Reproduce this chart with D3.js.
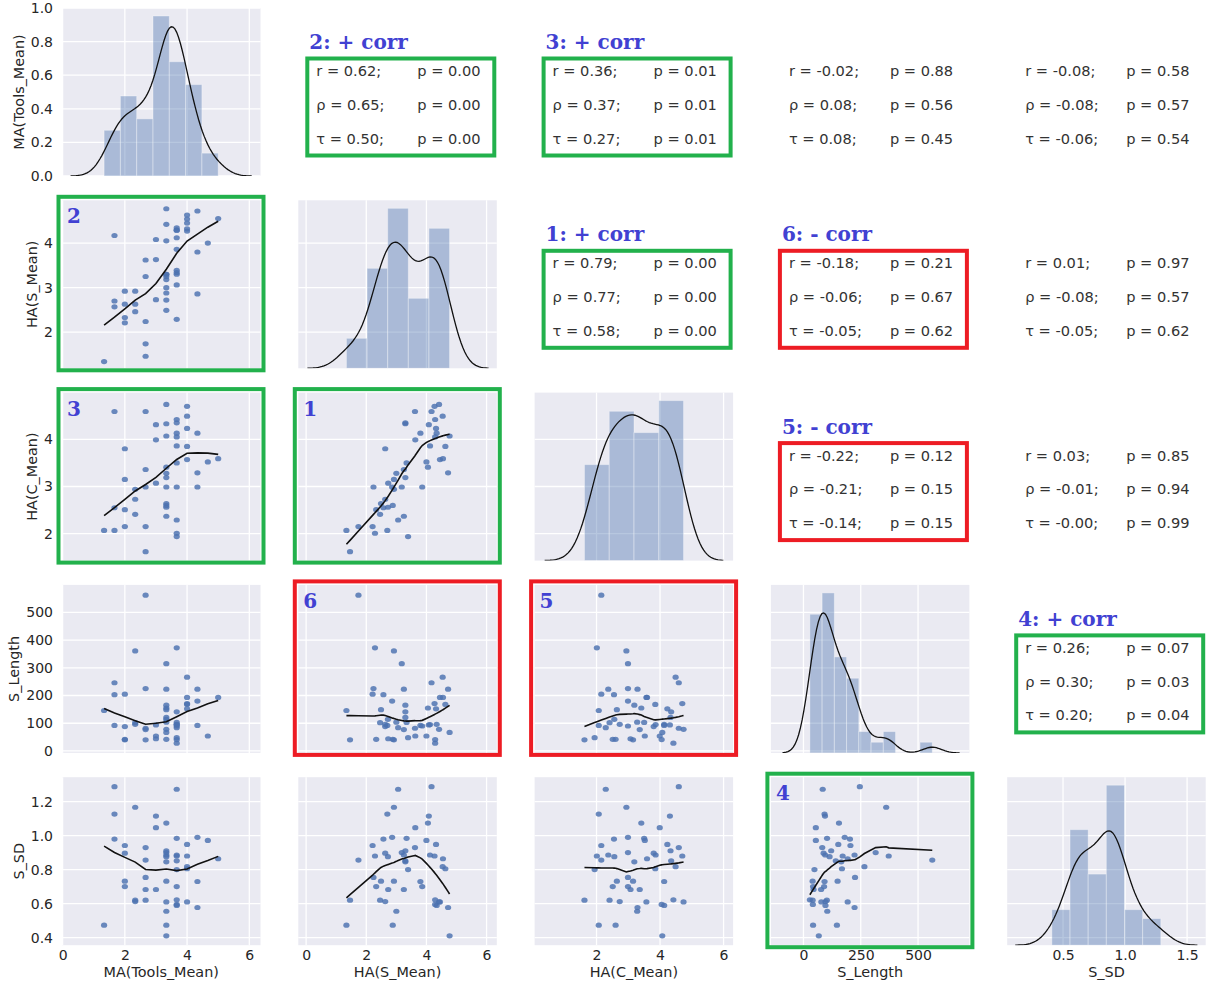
<!DOCTYPE html>
<html>
<head>
<meta charset="utf-8">
<script src="https://cdn.jsdelivr.net/npm/d3@7"></script>
<style>
  body { margin: 0; background: #fff; }
  svg text { font-family: "DejaVu Sans", sans-serif; }
</style>
</head>
<body>
<svg id="chart" width="1207" height="982"></svg>
<script>
// ---- data: one entry per respondent, five measures ----
const varNames = ["MA(Tools_Mean)", "HA(S_Mean)", "HA(C_Mean)", "S_Length", "S_SD"];

const toolsMean = [1.333, 1.667, 1.667, 1.667, 2, 2, 2, 2, 2.333, 2.333, 2.333,
  2.667, 2.667, 2.667, 2.667, 2.667, 3, 3, 3,
  3.333, 3.333, 3.333, 3.333, 3.333, 3.333, 3.333, 3.333, 3.333, 3.333, 3.333,
  3.667, 3.667, 3.667, 3.667, 3.667, 3.667, 3.667, 3.667, 3.667, 3.667,
  4, 4, 4, 4, 4, 4.333, 4.333, 4.333, 4.667, 5];
const sMean = [1.34, 4.17, 2.70, 2.57, 2.21, 2.63, 2.33, 2.92, 2.92, 2.46, 2.63,
  1.74, 1.46, 2.24, 3.62, 3.25, 4.08, 3.63, 2.73,
  4.77, 4.42, 3.30, 4.05, 3.00, 3.30, 3.18, 2.88, 2.49, 2.72, 3.25,
  2.29, 3.06, 3.30, 3.34, 3.39, 3.86, 4.12, 4.29, 4.34, 4.29,
  4.27, 4.54, 4.32, 4.63, 4.45, 4.72, 3.80, 2.86, 4.00, 4.55];
const cMean = [2.07, 4.59, 2.07, 2.55, 2.15, 3.80, 2.51, 3.15, 2.94, 2.41, 2.73,
  2.15, 1.62, 2.99, 4.59, 3.36, 4.31, 3.99, 3.07,
  4.07, 4.74, 4.33, 3.41, 3.28, 3.19, 2.99, 2.60, 2.64, 2.56, 2.37,
  2.01, 2.29, 4.35, 3.50, 1.94, 2.99, 3.86, 4.42, 4.13, 4.05,
  4.70, 4.49, 4.23, 3.85, 3.57, 3.29, 4.13, 2.99, 3.52, 3.59];
const sLength = [146, 246, 92, 203, 205, 88, 42, 40, 361, 102, 96,
  562, 40, 225, 82, 77, 94, 54, 44,
  67, 78, 121, 155, 104, 165, 315, 42, 149, 114, 223,
  372, 84, 141, 103, 48, 90, 95, 28, 96, 41,
  171, 266, 152, 168, 193, 223, 92, 180, 54, 193];
const sSD = [0.473, 1.288, 1.127, 0.98, 0.942, 0.897, 0.70, 0.732, 1.167, 0.62, 0.612,
  0.856, 0.62, 0.754, 0.93, 0.683, 1.115, 1.047, 0.683,
  0.41, 0.61, 0.911, 1.074, 0.555, 0.846, 0.90, 0.473, 0.732, 0.876, 0.886,
  0.88, 1.273, 0.852, 0.984, 0.80, 0.70, 0.886, 0.622, 0.589, 0.595,
  0.88, 0.817, 0.948, 0.805, 0.61, 0.577, 0.73, 0.99, 0.972, 0.864];
const columns = [toolsMean, sMean, cMean, sLength, sSD];

// histogram bin counts on the diagonal
const histBinCounts = [7, 5, 4, 10, 6];

// axis settings per variable
const xDomains = [[-0.02, 6.36], [-0.26, 6.34], [0.05, 6.3], [-142, 724], [0.05, 1.65]];
const yDomains = [[0, 1], [1.19, 4.96], [1.43, 4.99], [-7, 599], [0.355, 1.344]];
const xTickValues = [[0, 2, 4, 6], [0, 2, 4, 6], [2, 4, 6], [0, 250, 500], [0.5, 1.0, 1.5]];
const yTickValues = [[0, 0.2, 0.4, 0.6, 0.8, 1.0], [2, 3, 4], [2, 3, 4], [0, 100, 200, 300, 400, 500], [0.4, 0.6, 0.8, 1.0, 1.2]];
const xTickFormats = ["d", "d", "d", "d", ".1f"];
const yTickFormats = [".1f", "d", "d", "d", ".1f"];

// correlation statistics for each variable pair (upper triangle)
const corrPairs = [[0, 1], [0, 2], [0, 3], [0, 4], [1, 2], [1, 3], [1, 4], [2, 3], [2, 4], [3, 4]];
const pearsonR    = ["0.62", "0.36", "-0.02", "-0.08", "0.79", "-0.18", "0.01", "-0.22", "0.03", "0.26"];
const pearsonP    = ["0.00", "0.01", "0.88", "0.58", "0.00", "0.21", "0.97", "0.12", "0.85", "0.07"];
const spearmanRho = ["0.65", "0.37", "0.08", "-0.08", "0.77", "-0.06", "-0.08", "-0.21", "-0.01", "0.30"];
const spearmanP   = ["0.00", "0.01", "0.56", "0.57", "0.00", "0.67", "0.57", "0.15", "0.94", "0.03"];
const kendallTau  = ["0.50", "0.27", "0.08", "-0.06", "0.58", "-0.05", "-0.05", "-0.14", "-0.00", "0.20"];
const kendallP    = ["0.00", "0.01", "0.45", "0.54", "0.00", "0.62", "0.62", "0.15", "0.99", "0.04"];

// highlighted pairs: scatter cell (row, col), its tag and direction
const highlightCells = [[1, 0], [2, 0], [2, 1], [3, 1], [3, 2], [4, 3]];
const highlightTags  = ["2", "3", "1", "6", "5", "4"];
const highlightSigns = ["+", "+", "+", "-", "-", "+"];

// ---- layout ----
const svg = d3.select("#chart");
const PW = 198.5, PH = 168;
const colLeft = j => 62 + j * 236.3;
const rowTop = i => 8 + i * 192.3;
const GREEN = "#22b14c", RED = "#ed1c24", TAGBLUE = "#4141d2";
const DOT = "#4c72b0", TEXT = "#262626";

const xScales = xDomains.map((d, j) => d3.scaleLinear().domain(d).range([colLeft(j), colLeft(j) + PW]));
const yScales = yDomains.map((d, i) => d3.scaleLinear().domain(d).range([rowTop(i) + PH, rowTop(i)]));

// ---- helpers ----
function lowess(xv, yv, frac = 2 / 3, iters = 3) {
  const order = d3.range(xv.length).sort((a, b) => xv[a] - xv[b]);
  const x = order.map(i => xv[i]), y = order.map(i => yv[i]);
  const n = x.length, k = Math.floor(frac * n + 1e-10);
  let robust = new Array(n).fill(1);
  const fitted = new Array(n).fill(0);
  for (let it = 0; it <= iters; it++) {
    let left = 0, right = k - 1;
    for (let i = 0; i < n; i++) {
      while (right < n - 1 && x[i] - x[left] > x[right + 1] - x[i]) { left++; right++; }
      const h = Math.max(x[i] - x[left], x[right] - x[i]);
      const w = new Array(n).fill(0);
      let sw = 0, sx = 0, sy = 0;
      for (let j = 0; j < n; j++) {
        const d = Math.abs(x[j] - x[i]);
        let wt;
        if (h <= 0) wt = d === 0 ? 1 : 0;
        else {
          const u = d / h;
          wt = u <= 0.001 ? 1 : (u >= 0.999 ? 0 : Math.pow(1 - u * u * u, 3));
        }
        wt *= robust[j];
        w[j] = wt; sw += wt; sx += wt * x[j]; sy += wt * y[j];
      }
      if (sw <= 0) { fitted[i] = y[i]; continue; }
      const mx = sx / sw, my = sy / sw;
      let sxx = 0, sxy = 0;
      for (let j = 0; j < n; j++) {
        if (!w[j]) continue;
        sxx += w[j] * (x[j] - mx) ** 2;
        sxy += w[j] * (x[j] - mx) * (y[j] - my);
      }
      const b = sxx > 1e-12 ? sxy / sxx : 0;
      fitted[i] = my + b * (x[i] - mx);
    }
    if (it === iters) break;
    const res = y.map((v, i) => v - fitted[i]);
    const s = d3.median(res.map(Math.abs));
    if (!(s > 0)) break;
    robust = res.map(r => { const u = r / (6 * s); return Math.abs(u) < 1 ? (1 - u * u) ** 2 : 0; });
  }
  const pts = [];
  for (let i = 0; i < n; i++) {
    if (i > 0 && x[i] === x[i - 1]) continue;
    pts.push([x[i], fitted[i]]);
  }
  return pts;
}

function histogram(values, nb) {
  const [lo, hi] = d3.extent(values);
  const width = (hi - lo) / nb;
  const counts = new Array(nb).fill(0);
  values.forEach(v => {
    let b = Math.floor((v - lo) / width);
    if (b >= nb) b = nb - 1;
    if (b < 0) b = 0;
    counts[b]++;
  });
  return counts.map((c, b) => ({ x0: lo + b * width, x1: lo + (b + 1) * width, density: c / (values.length * width) }));
}

// Gaussian KDE with Scott's rule (robust spread estimate), cut at 3 bandwidths
function kde(values) {
  const n = values.length;
  const s = values.slice().sort(d3.ascending);
  const iqr = (d3.quantileSorted(s, 0.75) - d3.quantileSorted(s, 0.25)) / 1.349;
  const sd = d3.deviation(values);
  const spread = iqr > 0 ? Math.min(sd, iqr) : sd;
  const bw = 1.059 * spread * Math.pow(n, -0.2);
  const [lo, hi] = d3.extent(values);
  const grid = d3.range(100).map(g => (lo - 3 * bw) + g * ((hi - lo + 6 * bw) / 99));
  const norm = 1 / (n * bw * Math.sqrt(2 * Math.PI));
  return grid.map(g => [g, norm * d3.sum(values, v => Math.exp(-0.5 * ((g - v) / bw) ** 2))]);
}

const defs = svg.append("defs");
function clipFor(i, j) {
  const id = `clip-${i}-${j}`;
  defs.append("clipPath").attr("id", id)
    .append("rect").attr("x", colLeft(j)).attr("y", rowTop(i)).attr("width", PW).attr("height", PH);
  return `url(#${id})`;
}

function drawPanelFrame(i, j) {
  const g = svg.append("g");
  g.append("rect").attr("x", colLeft(j)).attr("y", rowTop(i))
    .attr("width", PW).attr("height", PH).attr("fill", "#eaeaf2");
  const xs = xScales[j], ys = yScales[i];
  g.selectAll(".vg").data(xTickValues[j].filter(t => t >= xs.domain()[0] && t <= xs.domain()[1]))
    .join("line").attr("x1", d => xs(d)).attr("x2", d => xs(d))
    .attr("y1", rowTop(i)).attr("y2", rowTop(i) + PH)
    .attr("stroke", "#fff").attr("stroke-width", 1.3);
  g.selectAll(".hg").data(yTickValues[i].filter(t => t >= ys.domain()[0] && t <= ys.domain()[1]))
    .join("line").attr("y1", d => ys(d)).attr("y2", d => ys(d))
    .attr("x1", colLeft(j)).attr("x2", colLeft(j) + PW)
    .attr("stroke", "#fff").attr("stroke-width", 1.3);
  return g;
}

// ---- lower triangle and diagonal ----
for (let i = 0; i < 5; i++) {
  for (let j = 0; j <= i; j++) {
    const g = drawPanelFrame(i, j);
    const clip = clipFor(i, j);
    const xs = xScales[j];
    if (i === j) {
      const vals = columns[i];
      const bins = histogram(vals, histBinCounts[i]);
      const curve = kde(vals);
      const top = 1.05 * Math.max(d3.max(bins, b => b.density), d3.max(curve, c => c[1]));
      const dens = d3.scaleLinear().domain([0, top]).range([rowTop(i) + PH, rowTop(i)]);
      const mg = g.append("g").attr("clip-path", clip);
      mg.selectAll("rect.bar").data(bins).join("rect")
        .attr("x", b => xs(b.x0)).attr("width", b => xs(b.x1) - xs(b.x0))
        .attr("y", b => dens(b.density)).attr("height", b => dens(0) - dens(b.density))
        .attr("fill", DOT).attr("fill-opacity", 0.4)
        .attr("stroke", "#fff").attr("stroke-opacity", 0.35).attr("stroke-width", 1);
      mg.append("path").datum(curve)
        .attr("d", d3.line().x(c => xs(c[0])).y(c => dens(c[1])))
        .attr("fill", "none").attr("stroke", "#111").attr("stroke-width", 1.3);
    } else {
      const ys = yScales[i];
      const xv = columns[j], yv = columns[i];
      const mg = g.append("g").attr("clip-path", clip);
      mg.selectAll("ellipse").data(d3.range(xv.length)).join("ellipse")
        .attr("cx", k => xs(xv[k])).attr("cy", k => ys(yv[k]))
        .attr("rx", 3.1).attr("ry", 2.6)
        .attr("fill", DOT).attr("fill-opacity", 0.82);
      mg.append("path").datum(lowess(xv, yv))
        .attr("d", d3.line().x(p => xs(p[0])).y(p => ys(p[1])))
        .attr("fill", "none").attr("stroke", "#111").attr("stroke-width", 1.6);
    }
  }
}

// ---- axes: y labels on the left column, x labels on the bottom row ----
for (let i = 0; i < 5; i++) {
  const ax = svg.append("g").attr("transform", `translate(${colLeft(0)},0)`)
    .call(d3.axisLeft(yScales[i]).tickValues(yTickValues[i]).tickFormat(d3.format(yTickFormats[i]))
      .tickSize(0).tickPadding(9));
  ax.select(".domain").remove();
  ax.selectAll("text").attr("fill", TEXT).style("font-size", "14px").style("font-family", "DejaVu Sans");
  let maxW = 0;
  ax.selectAll("text").each(function () { maxW = Math.max(maxW, this.getComputedTextLength()); });
  const lx = colLeft(0) - 9 - maxW - 12;
  const ly = rowTop(i) + PH / 2;
  svg.append("text").attr("transform", `translate(${lx},${ly}) rotate(-90)`)
    .attr("text-anchor", "middle").attr("dy", "0.35em")
    .attr("fill", TEXT).style("font-size", "14.4px").text(varNames[i]);
}
for (let j = 0; j < 5; j++) {
  const bottom = rowTop(4) + PH;
  const ax = svg.append("g").attr("transform", `translate(0,${bottom})`)
    .call(d3.axisBottom(xScales[j]).tickValues(xTickValues[j]).tickFormat(d3.format(xTickFormats[j]))
      .tickSize(0).tickPadding(5));
  ax.select(".domain").remove();
  ax.selectAll("text").attr("fill", TEXT).style("font-size", "14px").style("font-family", "DejaVu Sans");
  svg.append("text").attr("x", colLeft(j) + PW / 2).attr("y", bottom + 32)
    .attr("text-anchor", "middle").attr("fill", TEXT).style("font-size", "14.4px").text(varNames[j]);
}

// ---- upper triangle: correlation statistics ----
corrPairs.forEach(([a, b], k) => {
  const x0 = colLeft(b) + 18, y0 = rowTop(a) + 63;
  const lines = [
    ["r", pearsonR[k], pearsonP[k]],
    ["\u03c1", spearmanRho[k], spearmanP[k]],
    ["\u03c4", kendallTau[k], kendallP[k]]
  ];
  lines.forEach((ln, m) => {
    const y = y0 + m * 33.7;
    svg.append("text").attr("x", x0).attr("y", y).attr("dy", "0.35em")
      .attr("fill", "#333").style("font-size", "14.6px").text(`${ln[0]} = ${ln[1]};`);
    svg.append("text").attr("x", x0 + 101).attr("y", y).attr("dy", "0.35em")
      .attr("fill", "#333").style("font-size", "14.6px").text(`p = ${ln[2]}`);
  });
});

// ---- highlight boxes, tags and headings ----
highlightCells.forEach(([i, j], k) => {
  const col = highlightSigns[k] === "+" ? GREEN : RED;
  // frame round the scatter cell
  svg.append("rect").attr("x", colLeft(j) - 3.5).attr("y", rowTop(i) - 3.5)
    .attr("width", PW + 6.5).attr("height", PH + 5.5)
    .attr("fill", "none").attr("stroke", col).attr("stroke-width", 4);
  svg.append("text").attr("x", colLeft(j) + 5).attr("y", rowTop(i) + 23)
    .attr("fill", TAGBLUE).style("font-family", "DejaVu Serif").style("font-weight", "bold")
    .style("font-size", "20px").text(highlightTags[k]);
  // frame round the matching statistics in the mirrored cell
  const ti = j, tj = i;
  svg.append("rect").attr("x", colLeft(tj) + 9).attr("y", rowTop(ti) + 50.5)
    .attr("width", 187).attr("height", 97)
    .attr("fill", "none").attr("stroke", col).attr("stroke-width", 4);
  svg.append("text").attr("x", colLeft(tj) + 11).attr("y", rowTop(ti) + 41)
    .attr("fill", TAGBLUE).style("font-family", "DejaVu Serif").style("font-weight", "bold")
    .style("font-size", "20px").text(`${highlightTags[k]}: ${highlightSigns[k]} corr`);
});
</script>
</body>
</html>
